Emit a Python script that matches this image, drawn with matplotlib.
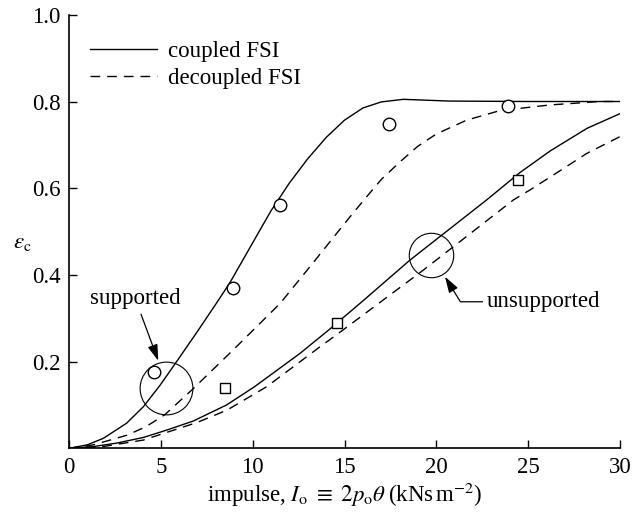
import matplotlib
matplotlib.use("Agg")
import matplotlib.pyplot as plt

plt.rcParams["font.family"] = ["Liberation Serif", "DejaVu Serif"]
plt.rcParams["mathtext.fontset"] = "stix"
plt.rcParams["font.size"] = 16.5

# coupled / decoupled FSI, supported beam
sup_cpl_x = [0, 1, 1.87, 3.14, 4.05, 4.95, 5.86, 7, 8, 8.76, 10, 11, 12, 13, 14, 15, 16, 17, 18.2, 20.7, 25, 30]
sup_cpl_y = [0, 0.008, 0.023, 0.058, 0.096, 0.145, 0.2, 0.27, 0.333, 0.382, 0.474, 0.548, 0.612, 0.668, 0.717, 0.757, 0.785, 0.799, 0.805, 0.801, 0.80, 0.80]
sup_dec_x = [0, 1.33, 3.14, 4.2, 5.23, 6.7, 8.94, 11.49, 13.12, 15.3, 16.2, 17, 18, 19, 20, 21.65, 23.46, 26.18, 28.9, 30]
sup_dec_y = [0, 0.008, 0.03, 0.05, 0.078, 0.135, 0.227, 0.334, 0.419, 0.534, 0.58, 0.62, 0.66, 0.697, 0.725, 0.757, 0.779, 0.792, 0.80, 0.80]

# coupled / decoupled FSI, unsupported beam
uns_cpl_x = [0, 1.33, 2.6, 4.05, 5.32, 6.77, 8.58, 10.1, 12.58, 14.2, 16, 18.56, 22.74, 24.55, 26.2, 28.2, 30]
uns_cpl_y = [0, 0.004, 0.012, 0.025, 0.042, 0.063, 0.100, 0.142, 0.219, 0.275, 0.34, 0.434, 0.573, 0.636, 0.686, 0.738, 0.772]
uns_dec_x = [0, 1.7, 4.05, 7, 8.6, 10.76, 13.66, 14.57, 19.29, 24.2, 25.1, 27.09, 28.18, 30]
uns_dec_y = [0, 0.003, 0.019, 0.06, 0.088, 0.142, 0.234, 0.262, 0.411, 0.573, 0.596, 0.650, 0.680, 0.719]

# experimental points
exp_sup_x = [4.63, 8.95, 11.49, 17.44, 23.92]
exp_sup_y = [0.175, 0.369, 0.561, 0.748, 0.790]
exp_uns_x = [8.51, 14.61, 24.42]
exp_uns_y = [0.138, 0.288, 0.618]

# grouping circles
ring_x = [5.26, 19.69]
ring_y = [0.14, 0.446]
ring_size = [38, 32]

fig = plt.figure(figsize=(6.32, 5.12), dpi=100)
ax = fig.add_axes([69 / 632, 1 - 448.3 / 512, 551 / 632, 433.5 / 512])

ax.plot(sup_cpl_x, sup_cpl_y, color="black", lw=1.0, label="coupled FSI")
ax.plot(sup_dec_x, sup_dec_y, color="black", lw=1.0, dashes=(7, 5), label="decoupled FSI")
ax.plot(uns_cpl_x, uns_cpl_y, color="black", lw=1.0)
ax.plot(uns_dec_x, uns_dec_y, color="black", lw=1.0, dashes=(7, 5))

ax.plot(exp_sup_x, exp_sup_y, "o", ms=9, mfc="white", mec="black", mew=1.0, ls="none")
ax.plot(exp_uns_x, exp_uns_y, "s", ms=7.5, mfc="white", mec="black", mew=1.0, ls="none")
for cx, cy, s in zip(ring_x, ring_y, ring_size):
    ax.plot(cx, cy, "o", ms=s, mfc="none", mec="black", mew=0.8)

arrow = dict(arrowstyle="-|>,head_length=0.7,head_width=0.22", color="black", lw=0.9,
             shrinkA=2, shrinkB=0, mutation_scale=14)
ax.annotate("supported", xy=(4.86, 0.202), xytext=(3.6, 0.346),
            ha="center", va="center", arrowprops=arrow)
ax.annotate("unsupported", xy=(20.47, 0.396), xytext=(22.74, 0.338),
            ha="left", va="center",
            arrowprops=dict(arrow, shrinkA=1, connectionstyle="angle,angleA=0,angleB=-58.5,rad=0"))

ax.set_xlim(0, 30)
ax.set_ylim(0, 1.0)
ax.set_xticks([0, 5, 10, 15, 20, 25, 30])
ax.set_yticks([0.2, 0.4, 0.6, 0.8, 1.0])
ax.set_yticklabels(["0.2", "0.4", "0.6", "0.8", "1.0"])
ax.tick_params(direction="in", length=6, width=1.0, pad=6)
for side in ["top", "right"]:
    ax.spines[side].set_visible(False)
for side in ["left", "bottom"]:
    ax.spines[side].set_linewidth(1.2)

ax.set_xlabel(r"impulse, $I_{\rm o}\ \equiv\ 2p_{\rm o}\theta\;$(kNs$\,$m$^{-2}$)", labelpad=2)
ax.set_ylabel(r"$\epsilon_{\rm c}$", rotation=0, va="center", ha="center")
ax.yaxis.set_label_coords(-0.085, 0.475)

ax.legend(loc="upper left", bbox_to_anchor=(0.018, 0.965), frameon=False,
          handlelength=2.9, handletextpad=0.5, borderpad=0, labelspacing=0.25)

fig.savefig("out.png", dpi=100)
